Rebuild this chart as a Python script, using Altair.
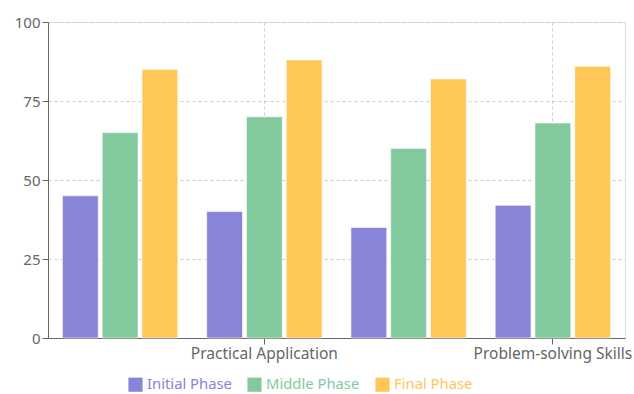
import altair as alt
import pandas as pd

categories = ["Theoretical Knowledge", "Practical Application", "Critical Thinking", "Problem-solving Skills"]
phases = ["Initial Phase", "Middle Phase", "Final Phase"]
initial = [45, 40, 35, 42]
middle = [65, 70, 60, 68]
final = [85, 88, 82, 86]
colors = ["#8884d8", "#82ca9d", "#ffc658"]
y_ticks = [0, 25, 50, 75, 100]

rows = []
for i, c in enumerate(categories):
    for p, vals in zip(phases, [initial, middle, final]):
        rows.append({"category": c, "phase": p, "value": vals[i]})
df = pd.DataFrame(rows)

FONT = "Noto Sans"

chart = alt.Chart(df).mark_bar(stroke="white", strokeWidth=1, strokeOpacity=0.6).encode(
    x=alt.X("category:N", sort=categories,
            scale=alt.Scale(paddingInner=0.2, paddingOuter=0.1),
            axis=alt.Axis(values=[categories[1], categories[3]], title=None, labelAngle=0,
                          grid=True, gridColor="#cccccc", gridDash=[3, 3],
                          domainColor="#666666", tickColor="#666666", tickSize=6,
                          labelColor="#666666", labelFontSize=15.5, labelFont=FONT,
                          labelPadding=2)),
    xOffset=alt.XOffset("phase:N", sort=phases, scale=alt.Scale(paddingInner=0.1)),
    y=alt.Y("value:Q", scale=alt.Scale(domain=[0, 100], nice=False),
            axis=alt.Axis(values=y_ticks, title=None, grid=True, gridColor="#cccccc",
                          gridDash=[3, 3], domainColor="#666666", tickColor="#666666",
                          tickSize=6, labelColor="#666666", labelFontSize=15,
                          labelFont=FONT, labelPadding=2)),
    color=alt.Color("phase:N", sort=phases,
                    scale=alt.Scale(domain=phases, range=colors),
                    legend=alt.Legend(title=None, orient="none", direction="horizontal",
                                      legendX=80, legendY=355,
                                      symbolType="square", symbolSize=200,
                                      symbolStrokeWidth=0, labelFontSize=14.8,
                                      labelFont=FONT, columnPadding=15, labelOffset=4,
                                      labelColor={"expr": "scale('color', datum.value)"})),
).properties(
    width=577, height=316,
    autosize=alt.AutoSizeParams(type="none"),
    padding={"left": 48, "top": 22, "right": 9, "bottom": 56},
).configure_view(
    stroke="#cccccc", strokeDash=[3, 3]
).configure(background="white")

chart.save("out.html", embed_options={"renderer": "svg", "actions": False})
